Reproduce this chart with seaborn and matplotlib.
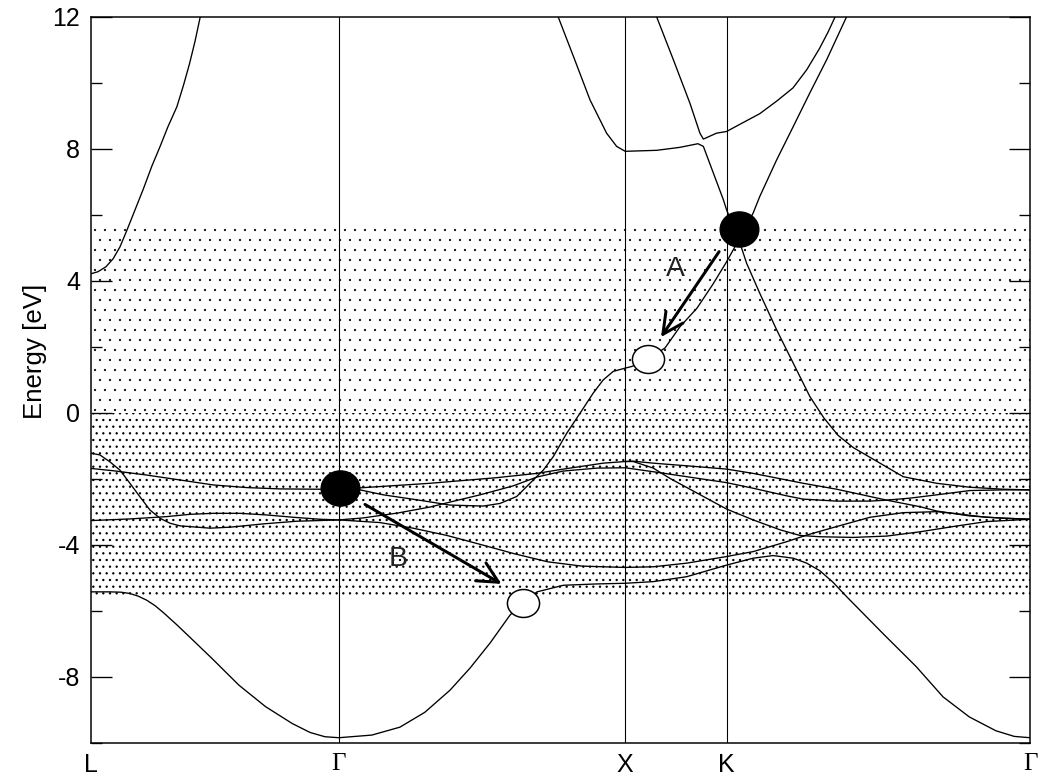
import matplotlib
matplotlib.use("Agg")
import matplotlib.pyplot as plt
import pandas as pd
import seaborn as sns
from matplotlib.path import Path

# High-symmetry points along the path L-Γ-X-K-Γ (units of 2π/a)
sym_labels = ["L", "Γ", "X", "K", "Γ"]
sym_k = [0.0, 0.866, 1.866, 2.220, 3.280]

# Energy axis (eV)
major_e = [-8, -4, 0, 4, 8, 12]
minor_e = [-10, -6, -2, 2, 6, 10]

# Shaded energy windows
fermi_level = 0.0
upper_edge = 5.7
lower_edge = -5.6

# Band energies sampled along the path
k1 = [0.000, 0.066, 0.105, 0.136, 0.165, 0.194, 0.224, 0.253, 0.300, 0.346, 0.424, 0.517, 0.610, 0.703, 0.765, 0.817, 0.866,
      0.981, 1.079, 1.166, 1.254, 1.324, 1.394, 1.464, 1.508, 1.558, 1.650, 1.766, 1.866,
      1.964, 2.081, 2.220, 2.313, 2.383, 2.453, 2.500, 2.546, 2.592, 2.640, 2.766, 2.883, 2.976, 3.068, 3.161, 3.225, 3.280]
e1 = [-5.42, -5.42, -5.43, -5.47, -5.55, -5.67, -5.84, -6.05, -6.42, -6.80, -7.45, -8.25, -8.90, -9.41, -9.68, -9.81, -9.84,
      -9.76, -9.52, -9.07, -8.40, -7.73, -6.97, -6.12, -5.75, -5.42, -5.22, -5.18, -5.16,
      -5.11, -4.96, -4.61, -4.40, -4.32, -4.40, -4.55, -4.78, -5.13, -5.57, -6.68, -7.69, -8.60, -9.21, -9.63, -9.80, -9.84]

k2 = [0.000, 0.136, 0.264, 0.346, 0.427, 0.520, 0.614, 0.707, 0.800, 0.866,
      1.009, 1.125, 1.243, 1.359, 1.481, 1.596, 1.715, 1.866,
      1.964, 2.081, 2.220, 2.313, 2.430, 2.500, 2.605, 2.721, 2.837, 2.954, 3.012, 3.128, 3.280]
e2 = [-3.26, -3.21, -3.14, -3.07, -3.04, -3.04, -3.09, -3.16, -3.22, -3.24,
      -3.32, -3.49, -3.71, -3.98, -4.27, -4.51, -4.64, -4.68,
      -4.66, -4.55, -4.35, -4.20, -3.90, -3.70, -3.44, -3.16, -3.02, -2.99, -3.04, -3.16, -3.22]

k3 = [0.000, 0.031, 0.066, 0.101, 0.136, 0.171, 0.206, 0.241, 0.276, 0.311, 0.416, 0.486, 0.602, 0.718, 0.866,
      0.950, 1.072, 1.184, 1.254, 1.359, 1.474, 1.558, 1.649, 1.767, 1.866,
      1.964, 2.081, 2.220, 2.313, 2.430, 2.488, 2.605, 2.721, 2.779, 2.861, 2.954, 3.070, 3.187, 3.280]
e3 = [-1.22, -1.27, -1.48, -1.73, -2.13, -2.54, -2.94, -3.19, -3.34, -3.42, -3.49, -3.46, -3.36, -3.28, -3.24,
      -3.18, -3.03, -2.85, -2.70, -2.48, -2.21, -1.94, -1.76, -1.67, -1.66,
      -1.78, -1.93, -2.11, -2.28, -2.51, -2.61, -2.67, -2.67, -2.64, -2.58, -2.48, -2.35, -2.33, -2.33]

k4 = [0.000, 0.078, 0.194, 0.311, 0.427, 0.544, 0.660, 0.800, 0.866,
      1.184, 1.417, 1.557, 1.650, 1.789, 1.866,
      1.894, 1.964, 2.081, 2.220, 2.313, 2.430, 2.488, 2.605, 2.721, 2.779, 2.896, 2.954, 3.070, 3.187, 3.280]
e4 = [-1.68, -1.75, -1.88, -2.03, -2.18, -2.26, -2.30, -2.31, -2.31,
      -2.13, -1.96, -1.83, -1.70, -1.52, -1.47,
      -1.46, -1.52, -1.60, -1.70, -1.83, -2.03, -2.13, -2.31, -2.53, -2.64, -2.84, -2.97, -3.12, -3.19, -3.22]

k5 = [1.866, 1.894, 1.964, 2.022, 2.139, 2.220, 2.313, 2.407, 2.476, 2.546, 2.663, 2.779, 2.896, 3.012, 3.128, 3.280]
e5 = [-1.47, -1.47, -1.67, -1.98, -2.53, -2.91, -3.24, -3.54, -3.71, -3.75, -3.77, -3.73, -3.60, -3.44, -3.29, -3.22]

k6 = [0.866, 0.940, 1.021, 1.138, 1.254, 1.370, 1.429, 1.487, 1.545, 1.580, 1.615, 1.662, 1.708, 1.754, 1.789, 1.824, 1.866,
      1.889, 1.947, 2.005, 2.057, 2.117, 2.173, 2.220, 2.263, 2.313, 2.336, 2.395, 2.453, 2.511, 2.570, 2.640, 2.660]
e6 = [-2.31, -2.33, -2.48, -2.63, -2.79, -2.82, -2.74, -2.53, -2.03, -1.73, -1.32, -0.61, -0.01, 0.60, 1.00, 1.26, 1.36,
      1.41, 1.64, 1.97, 2.61, 3.18, 3.91, 4.58, 5.25, 6.06, 6.56, 7.67, 8.68, 9.70, 10.71, 12.02, 12.45]

k7 = [1.610, 1.632, 1.685, 1.743, 1.801, 1.836, 1.866, 1.976, 2.057, 2.120,
      2.139, 2.174, 2.209, 2.220, 2.263, 2.290, 2.336, 2.395, 2.453, 2.511,
      2.560, 2.610, 2.663, 2.756, 2.837, 2.954, 3.070, 3.187, 3.280]
e7 = [12.50, 12.00, 10.81, 9.49, 8.48, 8.08, 7.93, 7.96, 8.05, 8.16,
      8.08, 7.27, 6.46, 6.16, 5.25, 4.54, 3.63, 2.52, 1.51, 0.50,
      -0.15, -0.68, -1.05, -1.52, -1.93, -2.13, -2.25, -2.31, -2.33]

k8 = [1.953, 1.976, 2.034, 2.092, 2.127, 2.139, 2.185, 2.220, 2.267, 2.336, 2.395, 2.452,
      2.500, 2.545, 2.575, 2.599, 2.615]
e8 = [12.50, 12.00, 10.71, 9.39, 8.48, 8.30, 8.48, 8.53, 8.75, 9.07, 9.45, 9.85,
      10.40, 11.05, 11.55, 12.00, 12.35]

k9 = [0.000, 0.024, 0.052, 0.077, 0.101, 0.126, 0.154, 0.182, 0.213, 0.241, 0.269, 0.300, 0.323, 0.344, 0.363, 0.381, 0.395]
e9 = [4.22, 4.28, 4.43, 4.67, 5.03, 5.55, 6.16, 6.77, 7.49, 8.07, 8.68, 9.28, 9.93, 10.58, 11.25, 11.98, 12.60]

# Carrier states: filled (occupied) and open (empty)
filled_k = [0.869, 2.262]
filled_e = [-2.26, 5.59]
open_k = [1.947, 1.508]
open_e = [1.64, -5.75]

# Transitions: start -> end
arrow_labels = ["A", "B"]
arrow_start_k = [2.194, 0.957]
arrow_start_e = [4.89, -2.77]
arrow_end_k = [1.991, 1.434]
arrow_end_e = [2.30, -5.18]
label_k = [2.043, 1.073]
label_e = [4.37, -4.43]

bands = [(k1, e1), (k2, e2), (k3, e3), (k4, e4), (k5, e5),
         (k6, e6), (k7, e7), (k8, e8), (k9, e9)]

sns.set_theme(style="white", rc={
    "axes.edgecolor": "black", "text.color": "black", "axes.labelcolor": "black",
    "xtick.color": "black", "ytick.color": "black",
})
plt.rcParams["font.family"] = ["Liberation Sans", "DejaVu Sans"]
plt.rcParams["axes.unicode_minus"] = False
plt.rcParams["hatch.color"] = "black"

DPI = 120
fig = plt.figure(figsize=(1041 / DPI, 780 / DPI), dpi=DPI, facecolor="white")
ax = fig.add_axes([91 / 1041, 37 / 780, 939 / 1041, 726 / 780])
ax.set_facecolor("white")


def stipple(lo, hi, pattern, dot_lw):
    """Dotted band between two energies; dot_lw sets the dot stroke width."""
    with plt.rc_context({"hatch.linewidth": dot_lw}):
        span = ax.axhspan(lo, hi, facecolor="none", edgecolor="black",
                          linewidth=0, hatch=pattern, zorder=0)
    if hasattr(span, "set_hatch_linewidth"):
        span.set_hatch_linewidth(dot_lw)
    return span


stipple(fermi_level, upper_edge, "..", 0.15)
stipple(lower_edge, fermi_level, "...", 0.6)

for kv in sym_k[1:-1]:
    ax.axvline(kv, color="black", lw=0.65, zorder=1)

df = pd.concat([pd.DataFrame({"k": ks, "E": es, "band": i})
                for i, (ks, es) in enumerate(bands)], ignore_index=True)
sns.lineplot(data=df, x="k", y="E", units="band", estimator=None, sort=False,
             color="black", lw=0.8, ax=ax, legend=False, zorder=2)

ellipse = Path(Path.unit_circle().vertices * [1.1, 1.0], Path.unit_circle().codes)
sns.scatterplot(x=filled_k, y=filled_e, marker=ellipse, s=540, color="black",
                edgecolor="black", linewidth=0.8, ax=ax, zorder=5, legend=False)
oval = Path(Path.unit_circle().vertices * [1.15, 1.0], Path.unit_circle().codes)
sns.scatterplot(x=open_k, y=open_e, marker=oval, s=372, color="white",
                edgecolor="black", linewidth=0.9, ax=ax, zorder=5, legend=False)

for lab, ks, es, ke, ee, lk, le in zip(arrow_labels, arrow_start_k, arrow_start_e,
                                       arrow_end_k, arrow_end_e, label_k, label_e):
    ax.annotate("", xy=(ke, ee), xytext=(ks, es),
                arrowprops=dict(arrowstyle="->,head_length=0.4,head_width=0.2",
                                lw=1.8, color="black", shrinkA=0, shrinkB=0,
                                mutation_scale=31), zorder=6)
    ax.text(lk, le, lab, fontsize=17, ha="center", va="center", color="#222222", zorder=6)

ax.set_xlim(sym_k[0], sym_k[-1])
ax.set_ylim(-10, 12)
ax.set_xticks(sym_k)
ax.set_xticklabels(sym_labels)
ax.set_yticks(major_e)
ax.set_yticklabels([str(v) for v in major_e])
ax.set_yticks(minor_e, minor=True)
ax.tick_params(axis="y", which="both", direction="in", left=True, right=True,
               labelsize=15, pad=6.6, width=0.8)
ax.tick_params(axis="y", which="major", length=12.6)
ax.tick_params(axis="y", which="minor", length=6.6)
ax.tick_params(axis="x", which="both", length=0, labelsize=15, pad=6)
for lbl in ax.get_xticklabels():
    if lbl.get_text() == "Γ":
        lbl.set_fontfamily(["Liberation Serif", "DejaVu Serif"])

for sp in ax.spines.values():
    sp.set_visible(True)
    sp.set_linewidth(0.9)
    sp.set_color("black")

ax.set_xlabel("")
ax.set_ylabel("Energy [eV]", fontsize=15.5)
ax.yaxis.set_label_coords(-0.047, 0.539)

fig.savefig("out.png", dpi=DPI, facecolor="white")
